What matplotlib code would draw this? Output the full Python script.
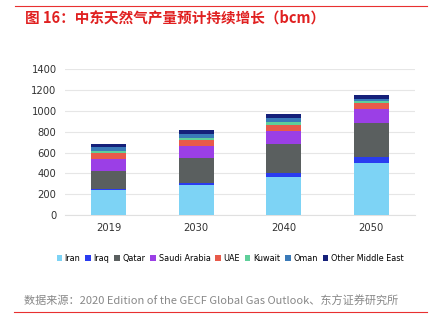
import matplotlib.pyplot as plt
import numpy as np
from matplotlib.font_manager import FontProperties

years = ['2019', '2030', '2040', '2050']
countries = ['Iran', 'Iraq', 'Qatar', 'Saudi Arabia', 'UAE', 'Kuwait', 'Oman', 'Other Middle East']
iran = [240, 288, 361, 495]
iraq = [9, 22, 42, 67]
qatar = [176, 240, 281, 323]
saudi = [112, 112, 125, 128]
uae = [61, 57, 54, 58]
kuwait = [16, 22, 29, 25]
oman = [35, 39, 35, 19]
other = [35, 32, 38, 39]
colors = ['#7dd3f5', '#2a3cf0', '#5a5f5f', '#9b3fe6', '#e85a4a', '#5fcf9a', '#3a7ab8', '#15207a']

cond = FontProperties(family='DejaVu Sans', stretch='condensed', size=8)

fig = plt.figure(figsize=(4.3, 3.23), dpi=100)
ax = fig.add_axes([0.151, 0.334, 0.814, 0.452])

series = [iran, iraq, qatar, saudi, uae, kuwait, oman, other]
x = np.arange(len(years))
bottom = np.zeros(len(years))
for vals, name, c in zip(series, countries, colors):
    ax.bar(x, vals, 0.4, bottom=bottom, color=c, label=name, zorder=3)
    bottom += np.array(vals)

ax.set_xlim(-0.5, 3.5)
ax.set_ylim(0, 1400)
ax.set_yticks(range(0, 1401, 200))
ax.set_xticks(x)
ax.set_xticklabels(years)
ax.grid(axis='y', color='#e6e6e6', linewidth=0.8, zorder=0)
for s in ['top', 'right', 'left']:
    ax.spines[s].set_visible(False)
ax.spines['bottom'].set_color('#e0e0e0')
ax.tick_params(length=0, colors='#333333', pad=6)
for t in ax.get_xticklabels() + ax.get_yticklabels():
    t.set_fontproperties(cond)

leg_font = FontProperties(family='DejaVu Sans', stretch='condensed', size=6.5)
leg = fig.legend(loc='center', bbox_to_anchor=(0.535, 0.2), ncol=8, frameon=False,
                 handlelength=0.6, handleheight=0.6, handletextpad=0.3, columnspacing=0.55,
                 prop=leg_font)

fig.lines.append(plt.Line2D([15/430, 427/430], [1 - 6/323, 1 - 6/323], color='#e83030', linewidth=0.8, transform=fig.transFigure))
fig.lines.append(plt.Line2D([14/430, 427/430], [1 - 312/323, 1 - 312/323], color='#e83030', linewidth=0.8, transform=fig.transFigure))
fig.text(25/430, 1 - 17/323, '图 16：中东天然气产量预计持续增长（bcm）', color='#e02020', fontsize=10.5,
         fontweight='bold', family=['Noto Sans CJK SC', 'DejaVu Sans'], va='center', ha='left')
fig.text(24/430, 1 - 301/323, '数据来源：2020 Edition of the GECF Global Gas Outlook、东方证券研究所',
         color='#888888', fontsize=8, family=['Noto Sans CJK SC', 'DejaVu Sans'], va='center', ha='left')

fig.savefig('out.png', dpi=100)
